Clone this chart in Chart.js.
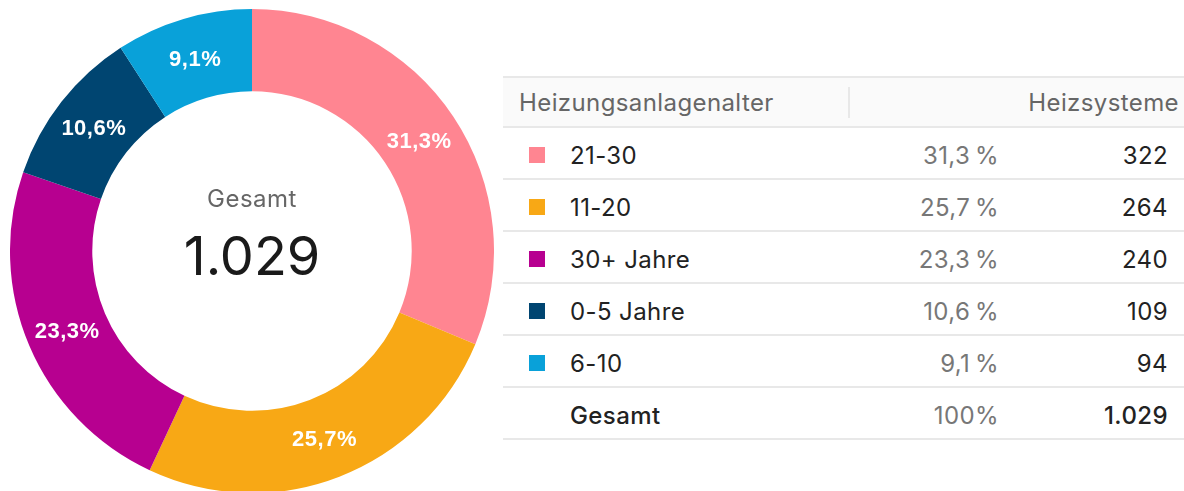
<!DOCTYPE html>
<html lang="de">
<head>
<meta charset="utf-8">
<script src="https://cdn.jsdelivr.net/npm/chart.js@4"></script>
<style>
  html, body { margin: 0; padding: 0; background: #fff; overflow: hidden; }
  body { width: 1184px; height: 491px; position: relative; font-family: Inter, "Open Sans", sans-serif; }
  #chartBox { position: absolute; left: 10px; top: 9px; width: 484px; height: 484px; }
  #tbl { position: absolute; left: 503px; top: 76px; width: 681px; border-collapse: collapse; table-layout: fixed; }
  #tbl th, #tbl td { border-top: 2px solid #e8e8e8; border-bottom: 2px solid #e8e8e8; padding: 0; font-size: 24px; letter-spacing: 0.4px; line-height: 26px; }
  #tbl th { height: 46px; background: #fafafa; color: #666; font-weight: 400; padding-top: 2px; }
  #tbl td { height: 44px; color: #222; padding-top: 6px; }
  #tbl th.lab { text-align: left; padding-left: 16px; }
  #tbl th.val { text-align: right; padding-right: 5px; position: relative; }
  #tbl th.val::before { content: ""; position: absolute; left: 0; top: 9px; bottom: 8px; border-left: 2px solid #e8e8e8; }
  #tbl td.lab { padding-left: 26px; }
  #tbl td.pct { text-align: right; padding-right: 16px; color: #777; }
  #tbl td.cnt { text-align: right; padding-right: 16px; }
  .sq { display: inline-block; width: 16px; height: 16px; margin-right: 25px; vertical-align: 1px; }
  tr.total td { font-weight: 500; }
  tr.total td.pct { font-weight: 400; }
</style>
</head>
<body>
<div id="chartBox"><canvas id="donut"></canvas></div>
<table id="tbl">
  <colgroup><col style="width:345px"><col style="width:167px"><col style="width:169px"></colgroup>
  <thead><tr><th class="lab">Heizungsanlagenalter</th><th class="val" colspan="2">Heizsysteme</th></tr></thead>
  <tbody id="rows"></tbody>
</table>
<script>
const categories = ['21-30', '11-20', '30+ Jahre', '0-5 Jahre', '6-10'];
const counts = [322, 264, 240, 109, 94];
const colors = ['#FF8591', '#F8A815', '#B70090', '#004571', '#09A1D9'];
const totalLabel = 'Gesamt';

const total = counts.reduce((a, b) => a + b, 0);
const fmtPct = (v, space) => (v / total * 100).toFixed(1).replace('.', ',') + (space ? '\u2009%' : '%');
const fmtNum = v => v.toLocaleString('de-DE');

// table on the right
const rows = document.getElementById('rows');
categories.forEach((c, i) => {
    const tr = document.createElement('tr');
    tr.innerHTML = `<td class="lab"><span class="sq" style="background:${colors[i]}"></span>${c}</td>` +
        `<td class="pct">${fmtPct(counts[i], true)}</td><td class="cnt">${fmtNum(counts[i])}</td>`;
    rows.appendChild(tr);
});
const tot = document.createElement('tr');
tot.className = 'total';
tot.innerHTML = `<td class="lab"><span class="sq"></span>${totalLabel}</td><td class="pct">100%</td><td class="cnt">${fmtNum(total)}</td>`;
rows.appendChild(tot);

// labels on the ring + text in the middle
const ringLabels = {
    id: 'ringLabels',
    afterDatasetsDraw(chart) {
        const c = chart.ctx;
        const meta = chart.getDatasetMeta(0);
        c.save();
        c.fillStyle = '#fff';
        c.font = 'bold 22px "Liberation Sans", Arial, sans-serif';
        c.textAlign = 'center';
        c.textBaseline = 'middle';
        c.letterSpacing = '0.5px';
        meta.data.forEach((arc, i) => {
            const p = arc.getCenterPoint();
            c.fillText(fmtPct(counts[i], false), p.x, p.y + 2);
        });
        const x = (chart.chartArea.left + chart.chartArea.right) / 2;
        const y = (chart.chartArea.top + chart.chartArea.bottom) / 2;
        c.fillStyle = '#666';
        c.font = '400 24px Inter, sans-serif';
        c.fillText(totalLabel, x, y - 51);
        c.letterSpacing = '0px';
        c.fillStyle = '#1a1a1a';
        c.font = '400 54px Inter, sans-serif';
        c.fillText(fmtNum(total), x, y + 8);
        c.restore();
    }
};

const chart = new Chart(document.getElementById('donut'), {
    type: 'doughnut',
    data: {
        labels: categories,
        datasets: [{
            data: counts,
            backgroundColor: colors,
            borderWidth: 0
        }]
    },
    options: {
        responsive: true,
        maintainAspectRatio: false,
        animation: false,
        cutout: '66%',
        layout: { padding: 0 },
        plugins: {
            legend: { display: false },
            tooltip: { enabled: false }
        }
    },
    plugins: [ringLabels]
});
</script>
</body>
</html>
